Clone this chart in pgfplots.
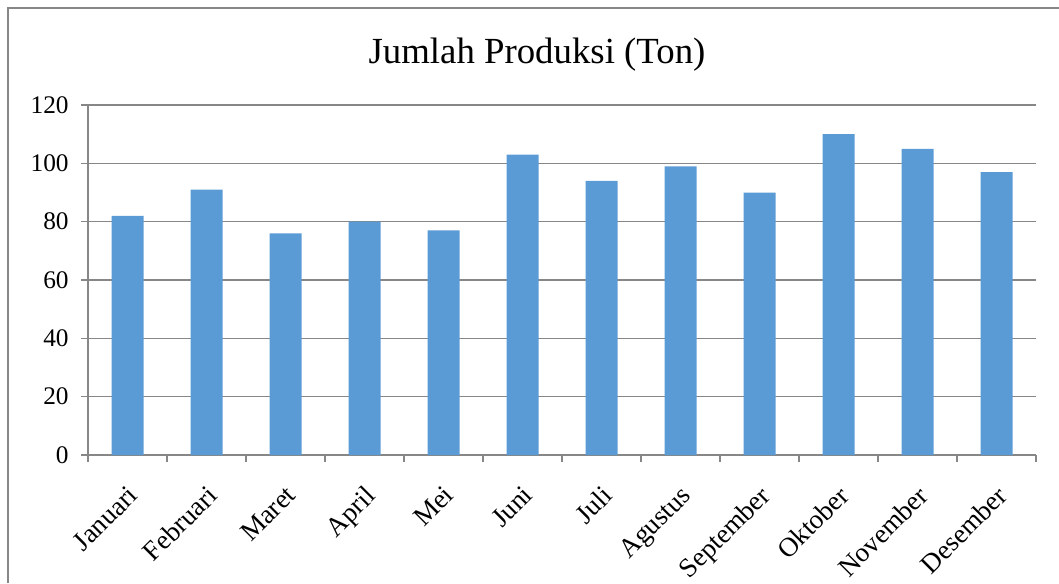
\documentclass[border=0pt]{standalone}
\usepackage{fontspec}
\setmainfont{Liberation Serif}
\usepackage{pgfplots}
\pgfplotsset{compat=1.18}
\definecolor{barblue}{HTML}{5B9BD5}
\definecolor{gridgray}{HTML}{878787}
\begin{document}
\begin{tikzpicture}
\useasboundingbox (0,0) rectangle (794.25pt,437.25pt);
\draw[gridgray, line width=0.9pt] (6pt,0pt) -- (6pt,431.25pt) -- (794.25pt,431.25pt);
\node[font=\fontsize{27.6}{33}\selectfont] at (402.75pt,396pt) {Jumlah Produksi (Ton)};
\begin{axis}[
  at={(66pt,96pt)}, anchor=south west,
  width=711pt, height=262.5pt, scale only axis,
  xmin=-0.5, xmax=11.5, ymin=0, ymax=120,
  axis lines=left, axis line style={-, gridgray, line width=0.8pt},
  xtick={0,...,11},
  xticklabels={Januari,Februari,Maret,April,Mei,Juni,Juli,Agustus,September,Oktober,November,Desember},
  major x tick style={draw=none},
  minor xtick={-0.5,0.5,...,11.5},
  minor x tick style={gridgray, line width=0.8pt},
  minor tick length=5pt,
  ytick={0,20,...,120},
  major tick length=5pt,
  tick align=outside,
  y tick style={gridgray, line width=0.8pt},
  ymajorgrids, grid style={gridgray, line width=0.8pt},
  yticklabel style={font=\fontsize{19}{22}\selectfont, xshift=-6pt},
  xticklabel style={font=\fontsize{20.3}{24}\selectfont, rotate=45, anchor=north east, xshift=-9pt, yshift=-8pt},
  /pgf/number format/assume math mode=true,
  clip=false,
]
\addplot[ybar, bar width=24pt, fill=barblue, draw=none] coordinates {
(0,82) (1,91) (2,76) (3,80) (4,77) (5,103) (6,94) (7,99) (8,90) (9,110) (10,105) (11,97)
};
\end{axis}
\end{tikzpicture}
\end{document}
